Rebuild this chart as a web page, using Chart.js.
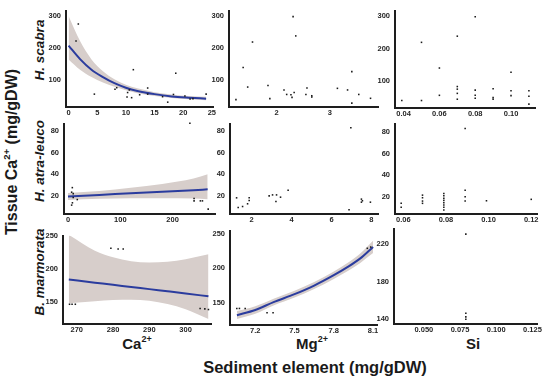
<!DOCTYPE html>
<html>
<head>
<meta charset="utf-8">
<script src="https://cdn.jsdelivr.net/npm/chart.js@4.4.0/dist/chart.umd.min.js"></script>
<style>
  body { margin: 0; background: #fff; }
  #wrap { position: relative; width: 550px; height: 381px; overflow: hidden; font-family: "Liberation Sans", Arial, sans-serif; color: #1a1a1a; }
  #wrap canvas { position: absolute; background: rgba(255, 255, 255, 0.01); }
  .lbl { position: absolute; font-weight: bold; white-space: nowrap; transform: translate(-50%, -50%); }
  .rot { transform: translate(-50%, -50%) rotate(-90deg); }
  .strip { font-style: italic; font-size: 13.5px; }
  sup { font-size: 0.6em; vertical-align: 0.7em; line-height: 0; }
</style>
</head>
<body>
<div id="wrap">
  <div class="lbl rot" style="left:12px; top:152px; font-size:16px;">Tissue Ca<sup>2+</sup> (mg/gDW)</div>
  <div class="lbl rot strip" style="left:39px; top:50px;">H. scabra</div>
  <div class="lbl rot strip" style="left:39px; top:161px;">H. atra-leuco</div>
  <div class="lbl rot strip" style="left:39px; top:272px;">B. marmorata</div>
  <div class="lbl" style="left:137px; top:343px; font-size:15px;">Ca<sup>2+</sup></div>
  <div class="lbl" style="left:312px; top:343px; font-size:15px;">Mg<sup>2+</sup></div>
  <div class="lbl" style="left:473px; top:343px; font-size:15px;">Si</div>
  <div class="lbl" style="left:315px; top:367px; font-size:16.5px;">Sediment element (mg/gDW)</div>
</div>
<script>
// --- data (x = sediment element, y = tissue Ca) ---

// H. scabra
const scabraCaX = [1.7, 1.3, 4.5, 8.1, 8.4, 10.3, 10.6, 10.2, 11.0, 11.3, 12.4, 13.8, 13.8, 16.4, 17.3, 18.7, 18.3, 20.3, 21.2, 21.7, 24.0];
const scabraCaY = [275, 222, 57, 72, 77, 62, 70, 48, 46, 133, 55, 76, 57, 49, 32, 122, 56, 51, 42, 43, 57];
const scabraCaFitX = [0, 2, 4, 6, 8, 10, 12, 15, 18, 21, 24];
const scabraCaFit = [208, 166, 133, 110, 91, 77, 67, 57, 50, 46, 43];
const scabraCaUpper = [300, 222, 165, 128, 103, 86, 75, 63, 56, 51, 49];
const scabraCaLower = [165, 133, 110, 93, 80, 69, 60, 51, 45, 41, 38];

const scabraMgX = [2.31, 2.36, 1.55, 1.375, 1.46, 1.24, 1.84, 1.875, 2.14, 2.19, 2.27, 2.29, 2.33, 2.55, 2.57, 2.66, 2.66, 3.14, 3.33, 3.41, 3.54, 3.41, 3.76];
const scabraMgY = [298, 238, 219, 140, 79, 40, 84, 43, 70, 56, 55, 47, 62, 56, 76, 52, 48, 75, 70, 127, 56, 29, 44];

const scabraSiX = [0.039, 0.05, 0.05, 0.06, 0.06, 0.07, 0.07, 0.07, 0.07, 0.07, 0.08, 0.08, 0.08, 0.08, 0.09, 0.09, 0.09, 0.10, 0.10, 0.10, 0.11, 0.11, 0.11];
const scabraSiY = [40, 40, 219, 140, 56, 238, 83, 75, 62, 44, 298, 72, 56, 47, 76, 49, 44, 127, 70, 55, 70, 53, 29];

// H. atra-leuco
const atraCaX = [8.3, 7, 10, 10, 17.8, 8.5, 7, 233, 241, 241, 253, 257, 268];
const atraCaY = [27.6, 23.4, 22.1, 18.5, 16.6, 13.6, 11.5, 87, 17.6, 15.4, 15.4, 15.4, 7.8];
const atraCaFitX = [0, 60, 120, 180, 240, 267];
const atraCaFit = [19.5, 20.9, 22.4, 23.8, 25.3, 26];
const atraCaUpper = [22.7, 24.5, 27.5, 31, 36, 40];
const atraCaLower = [16.3, 17.3, 17.8, 17.8, 17.5, 17];

const atraMgX = [1.25, 1.33, 1.55, 1.8, 1.88, 1.88, 2.88, 3.05, 3.25, 3.22, 3.45, 3.83, 6.88, 6.97, 7.5, 7.5, 7.55, 7.95];
const atraMgY = [18.2, 9.3, 10.2, 12.7, 18.2, 15.7, 20, 20.9, 20.9, 14.8, 18.8, 25.2, 7.2, 82.8, 17, 14.2, 15.5, 14.2];

const atraSiX = [0.059, 0.059, 0.069, 0.069, 0.069, 0.069, 0.079, 0.079, 0.079, 0.079, 0.079, 0.079, 0.079, 0.079, 0.089, 0.089, 0.089, 0.089, 0.099, 0.12];
const atraSiY = [13.9, 10.2, 21.5, 19.1, 16, 13.9, 23, 20.9, 18.5, 16.6, 14.5, 12.4, 10.2, 7.8, 83.4, 26.1, 20, 16, 16.3, 17.6];

// B. marmorata
const marmCaX = [268, 268.7, 269.6, 279.4, 281.4, 282.8, 304, 305.3, 306.3];
const marmCaY = [146.5, 146.5, 146.5, 231.5, 230.5, 230.5, 140, 139.5, 138.5];
const marmCaFitX = [267.8, 275, 280, 285, 290, 295, 300, 306.3];
const marmCaFit = [184, 179.3, 176, 172.8, 169.5, 166.3, 163, 158.5];
const marmCaUpper = [252, 228, 218, 212, 210, 211, 215, 222.5];
const marmCaLower = [148, 151, 153, 153.5, 152, 147, 139, 124];

const marmMgX = [7.059, 7.079, 7.123, 7.29, 7.336, 8.056, 8.082];
const marmMgY = [141.8, 141.8, 141.8, 135.6, 135.6, 229, 230.8];
const marmMgFitX = [7.06, 7.2, 7.34, 7.5, 7.65, 7.8, 7.907, 8.0, 8.1];
const marmMgFit = [132, 139.5, 151, 162.5, 175, 190, 202, 214, 231];
const marmMgUpper = [138, 145, 156, 167.5, 180, 195.5, 208, 221, 240];
const marmMgLower = [126.5, 134, 146, 157.5, 170, 184.5, 196, 207.5, 222];

const marmSiX = [0.079, 0.079, 0.079, 0.079];
const marmSiY = [230.7, 146.2, 142.3, 139.8];

// tick labels
const scabraYTicks = ['100', '200', '300'];
const atraYTicks = ['20', '40', '60', '80'];
const marmYTicks = ['150', '200', '250'];
const marmSiYTicks = ['140', '180', '220'];
const scabraCaXTicks = ['0', '5', '10', '15', '20', '25'];
const scabraMgXTicks = ['2', '3'];
const scabraSiXTicks = ['0.04', '0.06', '0.08', '0.10'];
const atraCaXTicks = ['0', '100', '200'];
const atraMgXTicks = ['2', '4', '6', '8'];
const atraSiXTicks = ['0.06', '0.08', '0.10', '0.12'];
const marmCaXTicks = ['270', '280', '290', '300'];
const marmMgXTicks = ['7.2', '7.5', '7.8', '8.1'];
const marmSiXTicks = ['0.050', '0.075', '0.100', '0.125'];


const wrap = document.getElementById('wrap');
const bandColor = 'rgb(215, 206, 203)';
const lineColor = '#2b3c9e';
const tickFont = { family: 'Liberation Sans', size: 7.5, weight: 'bold' };
const charts = [];

// if the y tick labels of a facet ever come out blank, write them from the scale
const labelGuard = {
    id: 'labelGuard',
    afterDraw(chart) {
        const y = chart.scales.y, ctx = chart.ctx;
        const top = Math.max(0, Math.round(chart.chartArea.top) - 4);
        const h = Math.round(chart.chartArea.bottom - chart.chartArea.top) + 8;
        const w = Math.max(1, Math.round(y.right) - 3);
        const px = ctx.getImageData(0, top, w, h).data;
        let ink = 0;
        for (let i = 3; i < px.length; i += 4) if (px[i] > 60) ink++;
        if (ink > 10) return;
        ctx.save();
        ctx.font = 'bold 7.5px "Liberation Sans"';
        ctx.fillStyle = '#262626';
        ctx.textAlign = 'right';
        ctx.textBaseline = 'middle';
        y.ticks.forEach(t => ctx.fillText(t.label, y.right - 5, y.getPixelForValue(t.value)));
        ctx.restore();
    }
};

function xy(xs, ys) {
    return xs.map((x, i) => ({ x: x, y: ys[i] }));
}

function axis(range, ticks, fit, pad) {
    return {
        type: 'linear',
        min: range[0],
        max: range[1],
        grid: { display: false, drawTicks: false },
        border: { display: true, color: '#1e1e1e', width: 2 },
        ticks: {
            font: tickFont, color: '#262626', padding: pad,
            maxRotation: 0, autoSkip: false,
            callback: (v, i) => ticks[i]
        },
        afterBuildTicks: s => { s.ticks = ticks.map(t => ({ value: parseFloat(t) })); },
        afterFit: fit
    };
}

/**
 * One facet: box = [left, right, top, bottom] of the plot area in page pixels.
 * The canvas starts right after the strip label so the two never overlap.
 */
function makePanel(p) {
    const YW = 18, XH = 14, PR = 5;

    // first dataset is drawn on top, so points go first and the band last
    const datasets = [{
        data: xy(p.x, p.y), showLine: false, clip: false,
        pointStyle: 'rect', pointRadius: 1.1, pointBorderWidth: 0,
        pointBackgroundColor: '#1a1a1a'
    }];
    if (p.fitX) {
        const smooth = { showLine: true, pointRadius: 0, cubicInterpolationMode: 'monotone' };
        datasets.push({ ...smooth, data: xy(p.fitX, p.fit), borderWidth: 2, borderColor: lineColor, fill: false });
        datasets.push({ ...smooth, data: xy(p.fitX, p.upper), borderWidth: 0, borderColor: 'rgba(0,0,0,0)', fill: '+1', backgroundColor: bandColor });
        datasets.push({ ...smooth, data: xy(p.fitX, p.lower), borderWidth: 0, borderColor: 'rgba(0,0,0,0)', fill: false });
    }

    // chart.js adds room for half a y label above the plot; measure it and redo once
    let top = 0, chart = null, canvas = null;
    for (let pass = 0; pass < 2; pass++) {
        if (chart) { chart.destroy(); canvas.remove(); }
        canvas = document.createElement('canvas');
        canvas.width = YW + (p.box[1] - p.box[0]) + PR;
        canvas.height = top + (p.box[3] - p.box[2]) + XH;
        wrap.appendChild(canvas);
        chart = new Chart(canvas, {
            type: 'line',
            data: { datasets: datasets },
            plugins: [labelGuard],
            options: {
                responsive: false,
                animation: false,
                events: [],
                layout: { padding: { top: 0, right: PR, left: 0, bottom: 0 }, autoPadding: false },
                plugins: { legend: { display: false }, tooltip: { enabled: false } },
                scales: {
                    x: axis(p.xr, p.xt, s => { s.height = XH; }, 1),
                    y: axis(p.yr, p.yt, s => { s.width = YW; }, 5)
                }
            }
        });
        if (Math.abs(chart.chartArea.top - top) < 0.5) break;
        top = chart.chartArea.top;
    }
    canvas.style.left = (p.box[0] - chart.chartArea.left) + 'px';
    canvas.style.top = (p.box[2] - chart.chartArea.top) + 'px';
    charts.push(chart);
}

// row 1: H. scabra
makePanel({ box: [66, 213, 10, 107], xr: [-0.45, 25.2], yr: [17, 317], xt: scabraCaXTicks, yt: scabraYTicks,
    x: scabraCaX, y: scabraCaY, fitX: scabraCaFitX, fit: scabraCaFit, upper: scabraCaUpper, lower: scabraCaLower });
makePanel({ box: [229, 378, 10, 107], xr: [1.11, 3.9], yr: [17, 317], xt: scabraMgXTicks, yt: scabraYTicks,
    x: scabraMgX, y: scabraMgY });
makePanel({ box: [395, 535, 10, 108], xr: [0.0352, 0.1134], yr: [17, 317], xt: scabraSiXTicks, yt: scabraYTicks,
    x: scabraSiX, y: scabraSiY });

// row 2: H. atra-leuco
makePanel({ box: [64, 215, 123, 214], xr: [-7.6, 281], yr: [3.3, 86.7], xt: atraCaXTicks, yt: atraYTicks,
    x: atraCaX, y: atraCaY, fitX: atraCaFitX, fit: atraCaFit, upper: atraCaUpper, lower: atraCaLower });
makePanel({ box: [230, 378, 123, 214], xr: [0.92, 8.33], yr: [3.3, 86.7], xt: atraMgXTicks, yt: atraYTicks,
    x: atraMgX, y: atraMgY });
makePanel({ box: [395, 537, 123, 214], xr: [0.0561, 0.1227], yr: [4, 88], xt: atraSiXTicks, yt: atraYTicks,
    x: atraSiX, y: atraSiY });

// row 3: B. marmorata
makePanel({ box: [63, 211, 235, 324], xr: [266.2, 307], yr: [116.5, 251], xt: marmCaXTicks, yt: marmYTicks,
    x: marmCaX, y: marmCaY, fitX: marmCaFitX, fit: marmCaFit, upper: marmCaUpper, lower: marmCaLower });
makePanel({ box: [230, 377, 230, 325], xr: [7.007, 8.13], yr: [117.8, 254.8], xt: marmMgXTicks, yt: marmYTicks,
    x: marmMgX, y: marmMgY, fitX: marmMgFitX, fit: marmMgFit, upper: marmMgUpper, lower: marmMgLower });
makePanel({ box: [394, 538, 228, 324], xr: [0.0294, 0.1283], yr: [134.7, 236.7], xt: marmSiXTicks, yt: marmSiYTicks,
    x: marmSiX, y: marmSiY });

// redraw once fonts are settled so tick labels are never lost
document.fonts.ready.then(() => charts.forEach(c => c.update('none')));
</script>
</body>
</html>
